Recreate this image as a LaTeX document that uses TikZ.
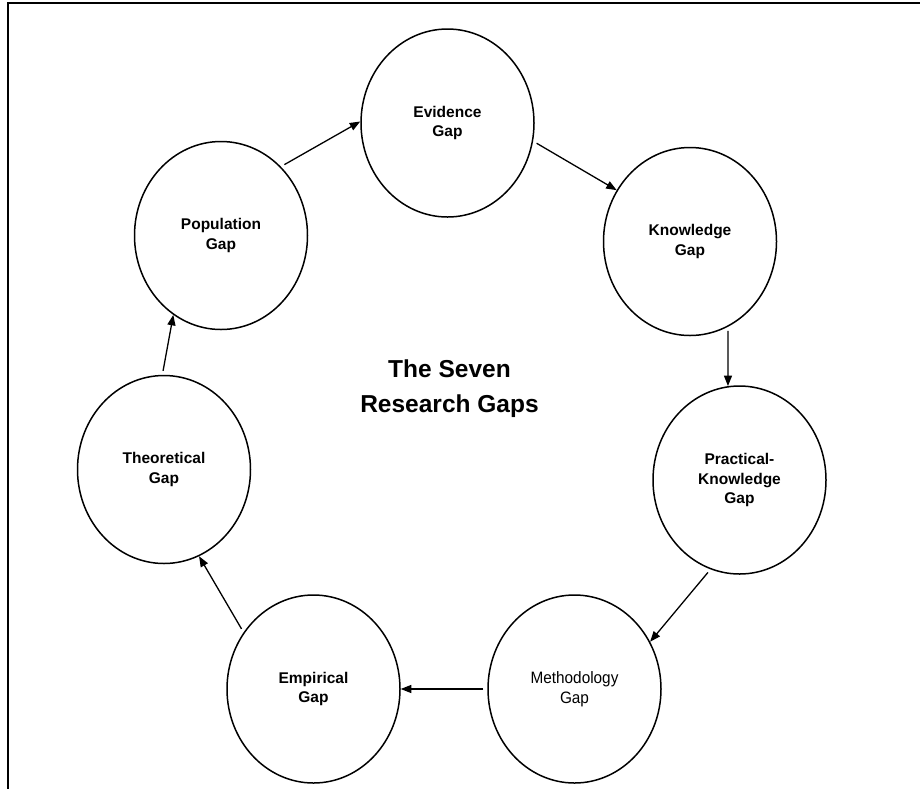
\documentclass[tikz,border=0pt]{standalone}
\usepackage{fontspec}
\setmainfont{Liberation Sans}
\newfontfamily\narrowsans[FakeStretch=0.93]{Liberation Sans}
\usetikzlibrary{shapes.geometric,arrows.meta}
\begin{document}
\begin{tikzpicture}[x=1pt,y=-1pt,
  gap/.style={ellipse,draw,line width=1.5pt,minimum width=173pt,minimum height=188pt,
    inner sep=0pt,align=center,font=\bfseries\fontsize{15.5}{19.5}\selectfont},
  plaingap/.style={gap,font=\narrowsans\fontsize{16.5}{19.5}\selectfont},
  flow/.style={line width=1.3pt,-{Triangle[length=10.5pt,width=8pt]},shorten <=4pt},
  frame/.style={line width=2.2pt}]
  \useasboundingbox (0,0) rectangle (920,788);
  \fill[white] (0,0) rectangle (920,788);

  % open frame along the top and left sides
  \draw[frame] (8,790) -- (8,3) -- (922,3);

  % the seven gaps
  \node[gap] (evid) at (447.5,123) {Evidence\\Gap};
  \node[gap] (know) at (690,241.5) {Knowledge\\Gap};
  \node[gap] (prac) at (739.5,480) {Practical-\\Knowledge\\Gap};
  \node[plaingap] (meth) at (574.5,689) {Methodology\\Gap};
  \node[gap] (empi) at (313.5,689) {Empirical\\Gap};
  \node[gap] (theo) at (164,469.5) {Theoretical\\Gap};
  \node[gap] (popu) at (221,235.5) {Population\\Gap};

  % title in the middle of the cycle
  \node[align=center,inner sep=0pt,font=\bfseries\fontsize{24.5}{35}\selectfont]
    (title) at (449.5,389) {The Seven\\Research Gaps};

  % the cycle of arrows
  \draw[flow] (popu.49) -- (evid.179);
  \draw[flow] (evid.-12) -- (know.145);
  \draw[flow] (know.-66) -- (prac.97);
  \draw[flow] (prac.252) -- (meth.32);
  \draw[flow] (meth.west) -- (empi.east);
  \draw[flow] (empi.141) -- (theo.-68);
  \draw[flow] (theo.91) -- (popu.239);
\end{tikzpicture}
\end{document}
